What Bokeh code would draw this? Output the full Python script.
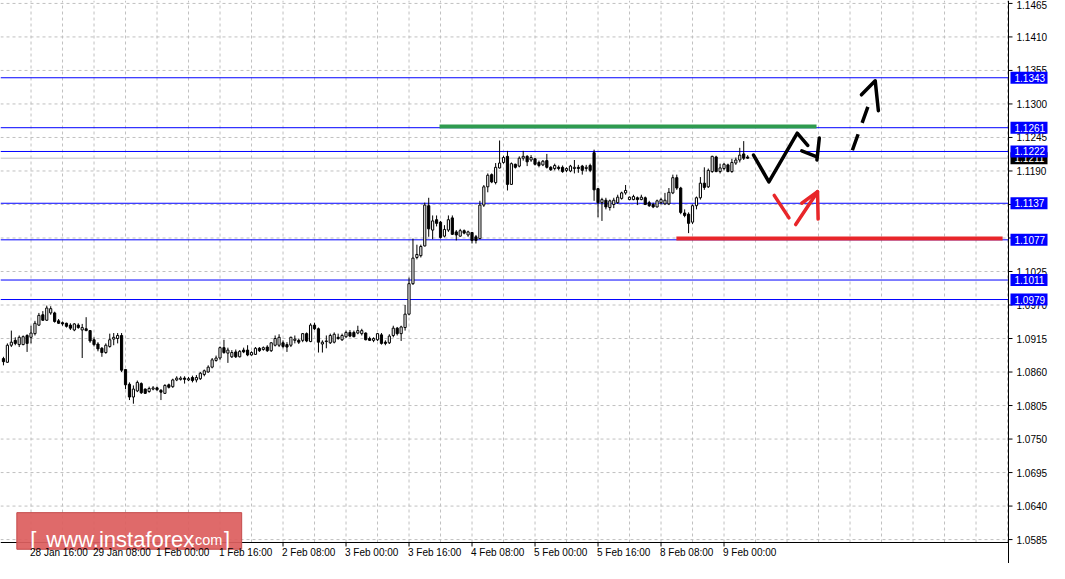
from bokeh.plotting import figure
from bokeh.models import Range1d
from bokeh.core.properties import value
from bokeh.embed import file_html
from bokeh.resources import INLINE

# ---------------- data (H1 bars, bar 0 = 28 Jan 09:00) ----------------
opens = [1.0882, 1.0876, 1.0904, 1.0912, 1.0905, 1.0905, 1.0920, 1.0917, 1.0923, 1.0937,
         1.0954, 1.0945, 1.0957, 1.0957, 1.0944, 1.0941, 1.0940, 1.0937, 1.0929, 1.0937,
         1.0929, 1.0931, 1.0928, 1.0913, 1.0906, 1.0899, 1.0892, 1.0902, 1.0914, 1.0915,
         1.0920, 1.0864, 1.0840, 1.0819, 1.0829, 1.0841, 1.0832, 1.0828, 1.0832, 1.0834,
         1.0830, 1.0825, 1.0839, 1.0836, 1.0847, 1.0848, 1.0850, 1.0847, 1.0851, 1.0847,
         1.0849, 1.0856, 1.0860, 1.0868, 1.0879, 1.0883, 1.0900, 1.0891, 1.0885, 1.0893,
         1.0885, 1.0896, 1.0896, 1.0888, 1.0889, 1.0899, 1.0897, 1.0901, 1.0895, 1.0904,
         1.0904, 1.0908, 1.0905, 1.0904, 1.0912, 1.0912, 1.0912, 1.0923, 1.0910, 1.0937,
         1.0931, 1.0906, 1.0910, 1.0908, 1.0909, 1.0917, 1.0913, 1.0918, 1.0925, 1.0925,
         1.0924, 1.0923, 1.0924, 1.0915, 1.0912, 1.0913, 1.0921, 1.0909, 1.0908, 1.0920,
         1.0932, 1.0923, 1.0933, 1.0955, 1.1005, 1.1048, 1.1051, 1.1067, 1.1133, 1.1093,
         1.1110, 1.1106, 1.1083, 1.1093, 1.1113, 1.1090, 1.1083, 1.1092, 1.1085, 1.1089,
         1.1082, 1.1079, 1.1134, 1.1164, 1.1184, 1.1171, 1.1195, 1.1204, 1.1214, 1.1168,
         1.1201, 1.1198, 1.1211, 1.1214, 1.1208, 1.1210, 1.1204, 1.1200, 1.1207, 1.1196,
         1.1194, 1.1196, 1.1196, 1.1191, 1.1190, 1.1194, 1.1196, 1.1198, 1.1194, 1.1199,
         1.1220, 1.1161, 1.1138, 1.1142, 1.1130, 1.1135, 1.1138, 1.1145, 1.1154, 1.1143,
         1.1143, 1.1146, 1.1143, 1.1146, 1.1138, 1.1135, 1.1131, 1.1138, 1.1136, 1.1136,
         1.1154, 1.1179, 1.1162, 1.1121, 1.1119, 1.1106, 1.1133, 1.1146, 1.1170, 1.1164,
         1.1189, 1.1213, 1.1189, 1.1194, 1.1200, 1.1189, 1.1203, 1.1208, 1.1218, 1.1213]
highs = [1.0885, 1.0907, 1.0928, 1.0917, 1.0920, 1.0920, 1.0922, 1.0936, 1.0944, 1.0957,
         1.0960, 1.0969, 1.0968, 1.0959, 1.0947, 1.0943, 1.0941, 1.0940, 1.0940, 1.0940,
         1.0939, 1.0950, 1.0929, 1.0917, 1.0909, 1.0901, 1.0907, 1.0923, 1.0924, 1.0924,
         1.0924, 1.0865, 1.0843, 1.0838, 1.0846, 1.0843, 1.0833, 1.0836, 1.0837, 1.0836,
         1.0832, 1.0840, 1.0841, 1.0849, 1.0853, 1.0853, 1.0853, 1.0852, 1.0854, 1.0855,
         1.0860, 1.0864, 1.0871, 1.0883, 1.0887, 1.0902, 1.0913, 1.0900, 1.0896, 1.0897,
         1.0896, 1.0900, 1.0904, 1.0894, 1.0901, 1.0901, 1.0902, 1.0904, 1.0909, 1.0920,
         1.0922, 1.0912, 1.0909, 1.0918, 1.0920, 1.0915, 1.0924, 1.0925, 1.0940, 1.0941,
         1.0933, 1.0912, 1.0920, 1.0923, 1.0925, 1.0923, 1.0923, 1.0928, 1.0929, 1.0928,
         1.0936, 1.0931, 1.0925, 1.0918, 1.0917, 1.0924, 1.0924, 1.0912, 1.0922, 1.0936,
         1.0934, 1.0936, 1.0970, 1.1015, 1.1079, 1.1069, 1.1069, 1.1138, 1.1146, 1.1117,
         1.1117, 1.1108, 1.1101, 1.1117, 1.1117, 1.1093, 1.1095, 1.1094, 1.1092, 1.1090,
         1.1085, 1.1141, 1.1167, 1.1186, 1.1186, 1.1203, 1.1240, 1.1215, 1.1223, 1.1204,
         1.1202, 1.1214, 1.1223, 1.1216, 1.1216, 1.1211, 1.1207, 1.1208, 1.1218, 1.1198,
         1.1202, 1.1199, 1.1199, 1.1196, 1.1200, 1.1208, 1.1200, 1.1200, 1.1200, 1.1202,
         1.1225, 1.1162, 1.1146, 1.1146, 1.1143, 1.1146, 1.1151, 1.1156, 1.1167, 1.1148,
         1.1151, 1.1148, 1.1151, 1.1148, 1.1141, 1.1138, 1.1143, 1.1146, 1.1154, 1.1162,
         1.1184, 1.1184, 1.1164, 1.1127, 1.1122, 1.1135, 1.1148, 1.1180, 1.1196, 1.1194,
         1.1215, 1.1215, 1.1202, 1.1203, 1.1202, 1.1210, 1.1212, 1.1228, 1.1239, 1.1216]
lows = [1.0871, 1.0875, 1.0901, 1.0904, 1.0901, 1.0904, 1.0893, 1.0907, 1.0920, 1.0936,
        1.0944, 1.0944, 1.0954, 1.0941, 1.0939, 1.0936, 1.0933, 1.0929, 1.0927, 1.0931,
        1.0883, 1.0927, 1.0908, 1.0902, 1.0894, 1.0885, 1.0890, 1.0900, 1.0904, 1.0907,
        1.0860, 1.0832, 1.0814, 1.0808, 1.0827, 1.0824, 1.0824, 1.0826, 1.0830, 1.0829,
        1.0814, 1.0824, 1.0833, 1.0834, 1.0845, 1.0846, 1.0841, 1.0845, 1.0843, 1.0843,
        1.0847, 1.0853, 1.0859, 1.0866, 1.0877, 1.0880, 1.0890, 1.0875, 1.0883, 1.0883,
        1.0884, 1.0891, 1.0886, 1.0887, 1.0888, 1.0893, 1.0895, 1.0893, 1.0893, 1.0902,
        1.0901, 1.0899, 1.0893, 1.0901, 1.0907, 1.0906, 1.0909, 1.0909, 1.0909, 1.0929,
        1.0892, 1.0892, 1.0899, 1.0906, 1.0907, 1.0913, 1.0911, 1.0916, 1.0917, 1.0917,
        1.0922, 1.0920, 1.0912, 1.0911, 1.0909, 1.0911, 1.0905, 1.0904, 1.0906, 1.0917,
        1.0920, 1.0911, 1.0928, 1.0953, 1.1003, 1.1045, 1.1048, 1.1066, 1.1082, 1.1078,
        1.1099, 1.1079, 1.1081, 1.1090, 1.1085, 1.1076, 1.1082, 1.1086, 1.1082, 1.1071,
        1.1071, 1.1078, 1.1131, 1.1155, 1.1170, 1.1168, 1.1194, 1.1202, 1.1158, 1.1167,
        1.1194, 1.1196, 1.1207, 1.1198, 1.1205, 1.1199, 1.1196, 1.1198, 1.1194, 1.1190,
        1.1191, 1.1191, 1.1187, 1.1188, 1.1188, 1.1186, 1.1187, 1.1184, 1.1189, 1.1188,
        1.1141, 1.1114, 1.1108, 1.1127, 1.1125, 1.1129, 1.1136, 1.1143, 1.1151, 1.1142,
        1.1142, 1.1134, 1.1142, 1.1134, 1.1131, 1.1129, 1.1130, 1.1135, 1.1134, 1.1134,
        1.1152, 1.1159, 1.1119, 1.1114, 1.1088, 1.1103, 1.1127, 1.1143, 1.1159, 1.1162,
        1.1187, 1.1188, 1.1186, 1.1191, 1.1188, 1.1187, 1.1200, 1.1204, 1.1208, 1.1210]
closes = [1.0877, 1.0904, 1.0909, 1.0907, 1.0917, 1.0918, 1.0907, 1.0924, 1.0940, 1.0953,
          1.0945, 1.0965, 1.0964, 1.0943, 1.0940, 1.0939, 1.0935, 1.0932, 1.0939, 1.0933,
          1.0933, 1.0928, 1.0911, 1.0905, 1.0898, 1.0892, 1.0904, 1.0913, 1.0917, 1.0920,
          1.0863, 1.0839, 1.0819, 1.0832, 1.0843, 1.0826, 1.0825, 1.0833, 1.0834, 1.0831,
          1.0827, 1.0838, 1.0835, 1.0847, 1.0850, 1.0850, 1.0848, 1.0849, 1.0846, 1.0851,
          1.0858, 1.0862, 1.0868, 1.0880, 1.0883, 1.0900, 1.0892, 1.0896, 1.0892, 1.0885,
          1.0894, 1.0893, 1.0888, 1.0892, 1.0899, 1.0895, 1.0900, 1.0895, 1.0908, 1.0915,
          1.0917, 1.0902, 1.0901, 1.0917, 1.0914, 1.0909, 1.0923, 1.0911, 1.0937, 1.0931,
          1.0909, 1.0909, 1.0911, 1.0920, 1.0922, 1.0915, 1.0920, 1.0925, 1.0919, 1.0918,
          1.0928, 1.0928, 1.0913, 1.0912, 1.0915, 1.0923, 1.0907, 1.0907, 1.0919, 1.0932,
          1.0923, 1.0934, 1.0955, 1.1005, 1.1047, 1.1053, 1.1066, 1.1134, 1.1095, 1.1108,
          1.1104, 1.1081, 1.1094, 1.1110, 1.1086, 1.1085, 1.1092, 1.1088, 1.1090, 1.1076,
          1.1076, 1.1134, 1.1164, 1.1183, 1.1172, 1.1196, 1.1203, 1.1212, 1.1168, 1.1202,
          1.1196, 1.1211, 1.1214, 1.1205, 1.1212, 1.1201, 1.1199, 1.1206, 1.1196, 1.1192,
          1.1199, 1.1194, 1.1189, 1.1194, 1.1198, 1.1196, 1.1194, 1.1191, 1.1196, 1.1191,
          1.1159, 1.1138, 1.1143, 1.1131, 1.1141, 1.1142, 1.1147, 1.1154, 1.1158, 1.1147,
          1.1148, 1.1143, 1.1147, 1.1135, 1.1133, 1.1131, 1.1141, 1.1143, 1.1142, 1.1155,
          1.1179, 1.1162, 1.1122, 1.1117, 1.1104, 1.1133, 1.1146, 1.1170, 1.1163, 1.1191,
          1.1214, 1.1189, 1.1195, 1.1201, 1.1189, 1.1204, 1.1208, 1.1216, 1.1211, 1.1211]

# horizontal levels drawn on the chart
level_prices = [1.1343, 1.1261, 1.1222, 1.1137, 1.1077, 1.1011, 1.0979]
bid_price = 1.1211
# thick coloured levels: (price, first bar, last bar)
green_level = (1.1263, 110.75, 206.5)
red_level = (1.1079, 170.9, 253.75)

# hand-drawn forecast arrows (bar index, price)
zig_x = [190.5, 194.4, 201.6, 204.25]
zig_y = [1.1216, 1.1172, 1.1252, 1.1232]
zig_head1_x = [202.75, 206.6]
zig_head1_y = [1.1223, 1.1213]
zig_head2_x = [206.6, 207.2]
zig_head2_y = [1.1208, 1.1244]
dash_x = [215.6, 219.75]
dash_y = [1.1224, 1.1299]
dash_head_x = [217.9, 221.4, 222.2]
dash_head_y = [1.1315, 1.1338, 1.1289]
red1_x = [195.75, 199.5]
red1_y = [1.1150, 1.1113]
red2_x = [201.2, 206.75, 206.9]
red2_y = [1.1102, 1.1156, 1.1111]
red3_x = [202.75, 206.75]
red3_y = [1.1137, 1.1156]

# axes
ytick_vals = [1.0585, 1.0640, 1.0695, 1.0750, 1.0805, 1.0860, 1.0915, 1.0970, 1.1025,
              1.1080, 1.1135, 1.1190, 1.1245, 1.1300, 1.1355, 1.1410, 1.1465]
xtick_idx = [7, 23, 39, 55, 71, 87, 103, 119, 135, 151, 167, 183]
xtick_labels = ["28 Jan 16:00", "29 Jan 08:00", "1 Feb 00:00", "1 Feb 16:00", "2 Feb 08:00",
                "3 Feb 00:00", "3 Feb 16:00", "4 Feb 08:00", "5 Feb 00:00", "5 Feb 16:00",
                "8 Feb 08:00", "9 Feb 00:00"]
xgrid_idx = [-1] + [t + h for t in xtick_idx for h in (0, 8)] + [199, 207, 215, 223, 231, 239, 247, 255]

# watermark box (bar index / price extents)
wm_left, wm_right, wm_top, wm_bottom = 3.4, 60.5, 1.06292, 1.05691

# ---------------- geometry ----------------
W, H = 1049, 563
BOTTOM = 21                      # time-axis band below the chart
AXIS_BAND = 41                   # price-scale band right of the chart
X0, XA = -0.75, 255.25           # visible bars; XA = price-scale line
PX_PER_BAR = (W - AXIS_BAND) / (XA - X0)
X1 = XA + AXIS_BAND / PX_PER_BAR
Y0, Y1 = 1.05802, 1.14698        # Y0 = time-axis line
PX_PER_PRICE = (H - BOTTOM) / (Y1 - Y0)
YB = Y1 - H / PX_PER_PRICE


def bars(px):
    return px / PX_PER_BAR


def dprice(px):
    return px / PX_PER_PRICE


FONT = "Liberation Sans"
BLUE = "#0000ff"

p = figure(width=W, height=H, output_backend="svg", toolbar_location=None,
           x_range=Range1d(X0, X1), y_range=Range1d(YB, Y1),
           min_border_left=0, min_border_top=0, min_border_right=0, min_border_bottom=0)
p.outline_line_color = None
p.background_fill_color = "white"
p.border_fill_color = "white"
p.xaxis.visible = False
p.yaxis.visible = False
p.grid.visible = False

# dashed grid (stops at the axis lines)
p.segment(x0=X0, x1=XA, y0=ytick_vals, y1=ytick_vals, line_color="#c0c0c0",
          line_width=1, line_dash="3 3")
p.segment(x0=xgrid_idx, x1=xgrid_idx, y0=Y0, y1=Y1, line_color="#c0c0c0",
          line_width=1, line_dash="3 3")

# level lines
p.segment(x0=X0, x1=XA, y0=[bid_price], y1=[bid_price], line_color="#c0c0c0", line_width=1)
p.segment(x0=X0, x1=XA, y0=level_prices, y1=level_prices, line_color=BLUE, line_width=1)

# candles
idx = list(range(len(opens)))
up_x = [i for i in idx if closes[i] >= opens[i]]
dn_x = [i for i in idx if closes[i] < opens[i]]
p.segment(x0=idx, y0=lows, x1=idx, y1=highs, line_color="black", line_width=1)
p.vbar(x=up_x, width=0.55, top=[closes[i] for i in up_x], bottom=[opens[i] for i in up_x],
       fill_color="white", line_color="black", line_width=1)
p.vbar(x=dn_x, width=0.55, top=[opens[i] for i in dn_x], bottom=[closes[i] for i in dn_x],
       fill_color="black", line_color="black", line_width=1)

# thick levels
p.segment(x0=[green_level[1]], y0=[green_level[0]], x1=[green_level[2]], y1=[green_level[0]],
          line_color="#2e9b4f", line_width=4)
p.segment(x0=[red_level[1]], y0=[red_level[0]], x1=[red_level[2]], y1=[red_level[0]],
          line_color="#e8262a", line_width=4)

# arrows
for xs, ys in [(zig_x, zig_y), (zig_head1_x, zig_head1_y), (zig_head2_x, zig_head2_y),
               (dash_head_x, dash_head_y)]:
    p.line(xs, ys, line_color="black", line_width=3.5, line_cap="round", line_join="round")
p.line(dash_x, dash_y, line_color="black", line_width=3.5, line_dash="17 12")
for xs, ys in [(red1_x, red1_y), (red2_x, red2_y), (red3_x, red3_y)]:
    p.line(xs, ys, line_color="#e8262a", line_width=3.5, line_cap="round", line_join="round")

# axis lines
p.segment(x0=[X0], x1=[XA], y0=[Y0], y1=[Y0], line_color="black", line_width=1)
p.segment(x0=[XA], x1=[XA], y0=[YB], y1=[Y1], line_color="black", line_width=1)

# time axis ticks
p.segment(x0=xtick_idx, x1=xtick_idx, y0=Y0, y1=Y0 - dprice(4), line_color="black", line_width=1)

# watermark (over the axis line, under the time labels)
p.quad(left=[wm_left], right=[wm_right], bottom=[wm_bottom], top=[wm_top],
       fill_color="#dd5f5f", fill_alpha=0.93, line_color="#c44a4a", line_width=1)
WM_BASE = 1.0585
p.text(x=[6.8], y=[WM_BASE], text=["["], text_color="white", text_font=value(FONT),
       text_font_size="22px", text_baseline="alphabetic")
p.text(x=[10.9], y=[WM_BASE], text=["www.instaforex"], text_color="white",
       text_font=value(FONT), text_font_size="22px", text_baseline="alphabetic")
p.text(x=[47.6], y=[WM_BASE], text=[".com"], text_color="white", text_font=value(FONT),
       text_font_size="14.5px", text_baseline="alphabetic")
p.text(x=[56.0], y=[WM_BASE], text=["]"], text_color="white", text_font=value(FONT),
       text_font_size="22px", text_baseline="alphabetic")

# time axis labels
p.text(x=[t - bars(1) for t in xtick_idx], y=Y0 - dprice(4), text=xtick_labels, text_color="black",
       text_font=value(FONT), text_font_size="10px", text_baseline="top", text_align="left")

# price scale: ticks and labels
p.segment(x0=XA, x1=XA + bars(4), y0=ytick_vals, y1=ytick_vals, line_color="black", line_width=1)
p.text(x=XA + bars(8), y=ytick_vals[:-1], text=[f"{v:.4f}" for v in ytick_vals[:-1]],
       text_color="black", text_font=value(FONT), text_font_size="10px",
       text_baseline="middle", text_align="left")
p.text(x=XA + bars(8), y=[Y1], text=[f"{ytick_vals[-1]:.4f}"],
       text_color="black", text_font=value(FONT), text_font_size="10px",
       text_baseline="top", text_align="left")

# price boxes on the scale
box_x = XA + bars(20.5)
p.rect(x=[box_x], y=[bid_price], width=37, height=12, width_units="screen", height_units="screen",
       fill_color="black", line_color=None)
p.text(x=XA + bars(6), y=[bid_price], text=[f"{bid_price:.4f}"], text_color="white",
       text_font=value(FONT), text_font_size="10px", text_baseline="middle", text_align="left")
p.rect(x=box_x, y=level_prices, width=37, height=12, width_units="screen", height_units="screen",
       fill_color=BLUE, line_color=None)
p.text(x=XA + bars(6), y=level_prices, text=[f"{v:.4f}" for v in level_prices], text_color="white",
       text_font=value(FONT), text_font_size="10px", text_baseline="middle", text_align="left")

open("out.html", "w").write(file_html(p, INLINE))
